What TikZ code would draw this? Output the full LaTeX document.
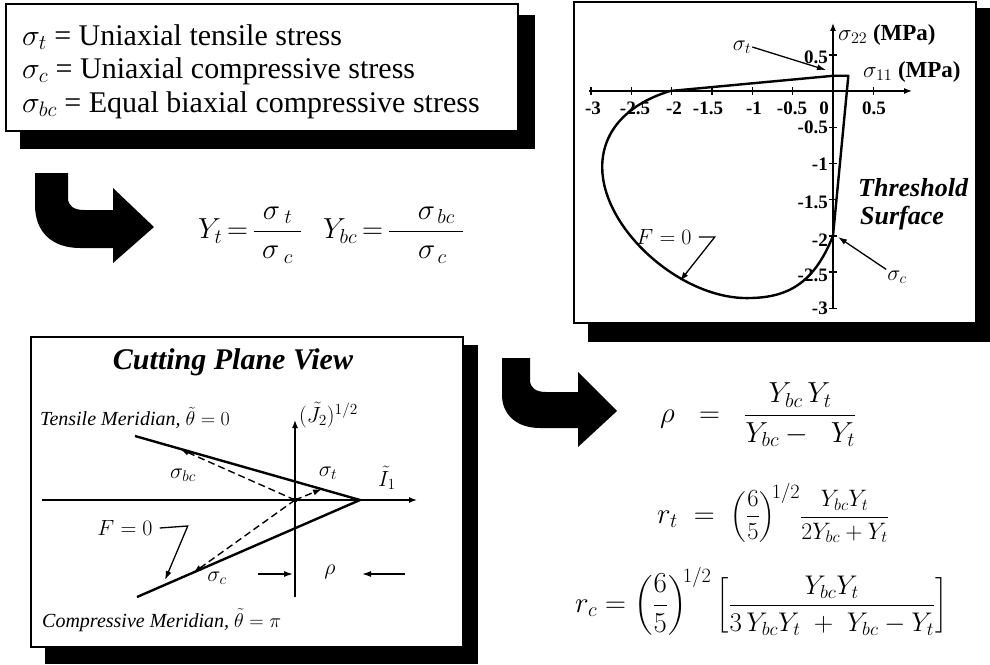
\RequirePackage{fix-cm}
\documentclass[tikz,border=0pt]{standalone}
\usepackage{amsmath}
\usepackage{fontspec}
\setmainfont{Liberation Serif}
\usetikzlibrary{arrows.meta}
\tikzset{
  frame/.style={draw=black,line width=2.8pt,fill=white},
  shadefill/.style={fill=black},
  bigarrow/.style={fill=black},
  axisline/.style={line width=1.4pt},
  curveline/.style={line width=2.4pt},
  leader/.style={line width=1.3pt,-{Latex[length=9pt,width=6pt]}},
  axarrow/.style={line width=1.4pt,-{Latex[length=8pt,width=6pt]}},
  ticklbl/.style={font=\bfseries\fontsize{19}{19}\selectfont,inner sep=0pt},
  deftext/.style={anchor=base west,font=\fontsize{30}{34}\selectfont,inner sep=0pt},
  formula/.style={font=\fontsize{29}{34}\selectfont,inner sep=0pt},
  cplbl/.style={font=\fontsize{22}{26}\selectfont,inner sep=1pt},
  merid/.style={font=\itshape\fontsize{20}{24}\selectfont,inner sep=0pt,anchor=west},
  unitlbl/.style={font=\fontsize{23}{26}\selectfont,anchor=west,inner sep=0pt},
  surflbl/.style={font=\bfseries\itshape\fontsize{26}{28}\selectfont,anchor=west,inner sep=0pt},
  dashline/.style={line width=1.4pt,dash pattern=on 7pt off 4pt,-{Latex[length=9pt,width=6pt]}},
}
\begin{document}
\begin{tikzpicture}[x=1pt,y=-1pt]
\useasboundingbox (0,0) rectangle (990,664);

% ---------------- box 1: definitions
\fill[shadefill] (20,15) rectangle (535,149);
\draw[frame] (6,4) rectangle (518,131);
\node[deftext] (d1) at (22,45) {$\sigma_t$ = Uniaxial tensile stress};
\node[deftext] (d2) at (22,78) {$\sigma_c$ = Uniaxial compressive stress};
\node[deftext] (d3) at (22,112) {$\sigma_{bc}$ = Equal biaxial compressive stress};

% ---------------- big arrow 1
\fill[bigarrow] (35,173) -- (68,173) -- (68,198) .. controls (68,206) and (74,210) .. (84,210)
  -- (113,210) -- (113,188) -- (154,227) -- (113,263) -- (113,248) -- (80,248)
  .. controls (52,248) and (35,232) .. (35,205) -- cycle;
\node[formula,anchor=west] (yt) at (198,235) {$Y_t \,{=}\, \dfrac{\;\sigma_{\;t}\;}{\;\sigma_{\;c}\;}$};
\node[formula,anchor=west] (ybc) at (323,235) {$Y_{bc} \,{=}\, \dfrac{\quad\sigma_{\,bc}\;}{\quad\sigma_{\,c}\;\;}$};

% ---------------- box 2: threshold surface chart
\fill[shadefill] (588,8) rectangle (990,342);
\draw[frame] (574,2) rectangle (976,323);
\begin{scope}[shift={(833,91)},x=80.7pt,y=72.4pt]
  \draw[axarrow] (-3.02,0) -- (0.98,0);
  \draw[axarrow] (0,-3) -- (0,0.94);
  \foreach \i in {-3,-2.5,-2,-1.5,-1,-0.5,0.5} \draw[axisline] (\i,-0.05) -- (\i,0.05);
  \foreach \j in {-3,-2.5,-2,-1.5,-1,-0.5,0.5} \draw[axisline] (-0.045,\j) -- (0.045,\j);
  \draw[curveline,line join=round] (-2.02,0) -- (0,0.21) -- (0.19,0.21) -- (0,-2)
    .. controls (-0.25,-2.7) and (-0.6,-2.86) .. (-1.07,-2.86)
    .. controls (-1.9,-2.86) and (-2.86,-1.9) .. (-2.86,-1.05)
    .. controls (-2.86,-0.6) and (-2.6,-0.2) .. (-2.02,0) -- cycle;
\end{scope}
\foreach \x/\t in {593/-3,635/-2.5,674/-2,708/-1.5,754/-1,792/-0.5,824/0,874/0.5}
  \node[ticklbl] (xt\t) at (\x,108) {\t};
\foreach \y/\t in {57/0.5,127/-0.5,164/-1,202/-1.5,240/-2,275/-2.5,308/-3}
  \node[ticklbl,anchor=east] (yt\t) at (828,\y) {\t};
\node[unitlbl] (s22) at (838,35) {$\sigma_{22}$ \textbf{(MPa)}};
\node[unitlbl] (s11) at (863,72) {$\sigma_{11}$ \textbf{(MPa)}};
\node[cplbl] (stl) at (742,47) {$\sigma_t$};
\coordinate (stTip) at (826,70);
\draw[leader] (stl.east) -- (stTip);
\node[surflbl] (thr) at (858,188) {Threshold};
\node[surflbl] (surf) at (860,218) {Surface};
\node[cplbl] (fz1) at (664,237) {$F = 0$};
\coordinate (fz1Tip) at (680,281);
\draw[leader] ([xshift=6pt]fz1.east) -- ++(16,0) -- (fz1Tip);
\node[cplbl] (scl) at (897,277) {$\sigma_c$};
\coordinate (scTip) at (838,237);
\draw[leader] (scl.north west) -- (scTip);

% ---------------- box 3: cutting plane view
\fill[shadefill] (45,345) rectangle (478,664);
\draw[frame] (31,337) rectangle (463,647);
\node[font=\bfseries\itshape\fontsize{30}{32}\selectfont,inner sep=0pt] (cpv) at (233,362) {Cutting Plane View};
\coordinate (O) at (295,500);
\coordinate (xL) at (42,500);
\coordinate (xR) at (417,500);
\coordinate (yB) at (295,597);
\coordinate (yT) at (295,420);
\coordinate (apex) at (360,500);
\coordinate (tmEnd) at (135,436);
\coordinate (cmEnd) at (137,597);
\coordinate (pT) at (322,489);
\coordinate (pBC) at (180,449);
\coordinate (pC) at (193,573);
\draw[axarrow] (xL) -- (xR);
\draw[axarrow] (yB) -- (yT);
\draw[curveline] (tmEnd) -- (apex) -- (cmEnd);
\draw[dashline] (O) -- (pT);
\draw[dashline] (O) -- (pBC);
\draw[dashline] (O) -- (pC);
\fill (O) circle (2.5pt);
\node[merid] (tm) at (40,418) {Tensile Meridian, $\tilde\theta = 0$};
\node[merid] (cm) at (42,620) {Compressive Meridian, $\tilde\theta = \pi$};
\node[cplbl,anchor=west] (jl) at (298,415) {$(\tilde J_2)^{1/2}$};
\node[cplbl] (sbc) at (183,475) {$\sigma_{bc}$};
\node[cplbl] (st2) at (328,473) {$\sigma_t$};
\node[cplbl] (i1) at (387,478) {$\tilde I_1$};
\node[cplbl] (fz2) at (125,528) {$F = 0$};
\coordinate (fz2Tip) at (165,580);
\draw[leader] ([xshift=6pt]fz2.east) -- ++(28,-2) -- (fz2Tip);
\node[cplbl] (sc2) at (217,578) {$\sigma_c$};
\node[cplbl] (rho) at (330,572) {$\rho$};
\coordinate (rL) at (258,574);
\coordinate (rR) at (405,574);
\coordinate (rLT) at (293,574);
\coordinate (rRT) at (362,574);
\draw[leader] (rL) -- (rLT);
\draw[leader] (rR) -- (rRT);

% ---------------- big arrow 2
\fill[bigarrow] (502,358) -- (530,358) -- (530,380) .. controls (530,388) and (536,392) .. (546,392)
  -- (578,392) -- (578,372) -- (617,411) -- (578,447) -- (578,428) -- (540,428)
  .. controls (516,428) and (502,414) .. (502,395) -- cycle;

% ---------------- right formulas
\node[formula,anchor=west] (frho) at (660,415) {$\rho \;\;=\;\; \dfrac{Y_{bc}\,Y_t}{Y_{bc} - \;\; Y_t}$};
\node[formula,anchor=west] (frt) at (657,513) {$r_t \;=\; \scalebox{0.85}{$\left(\dfrac{6}{5}\right)$}^{\!1/2} \scalebox{0.82}{$\dfrac{Y_{bc}Y_t}{2Y_{bc}+Y_t}$}$};
\node[formula,anchor=west] (frc) at (575,601) {$r_c = \left(\dfrac{6}{5}\right)^{\!1/2} \scalebox{0.93}{$\left[\dfrac{Y_{bc}Y_t}{3\,Y_{bc}Y_t \;+\; Y_{bc} - Y_t}\right]$}$};
\end{tikzpicture}
\end{document}
